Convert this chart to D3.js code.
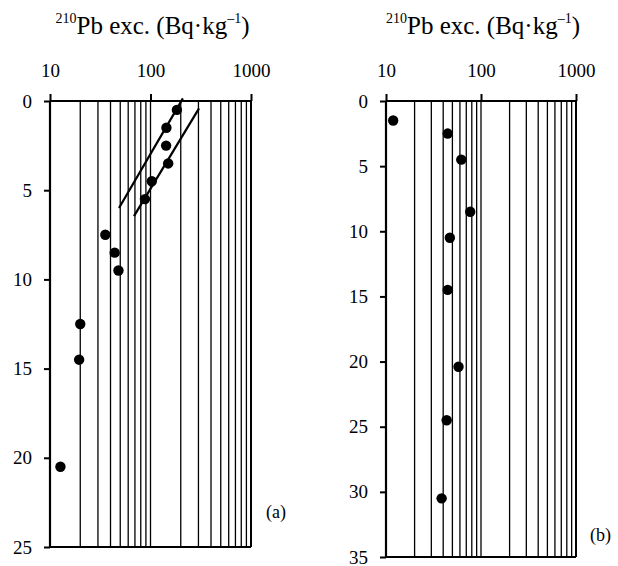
<!DOCTYPE html>
<html>
<head>
<meta charset="utf-8">
<script src="https://cdn.jsdelivr.net/npm/d3@7"></script>
<style>
  body { margin: 0; background: #fff; }
  svg { display: block; }
  svg text { font-family: "Liberation Serif", serif !important; fill: #000; }
  .axis path { display: none; }
  .axis line { stroke: #000; stroke-width: 2; }
  .axis text { font-size: 19px; }
</style>
</head>
<body>
<div id="chart"></div>
<script>
// panel (a) profile
var depthA = [0.5, 1.5, 2.5, 3.5, 4.5, 5.5, 7.5, 8.5, 9.5, 12.5, 14.5, 20.5];
var pbA    = [183, 144, 143, 150, 103, 88, 35.5, 44, 48, 20, 19.5, 12.7];
// two fitted lines in panel (a)
var fit1Pb = [48.6, 210], fit1Depth = [6.0, -0.15];
var fit2Pb = [68.5, 304], fit2Depth = [6.45, 0.41];

// panel (b) profile
var depthB = [1.5, 2.5, 4.5, 8.5, 10.5, 14.5, 20.4, 24.5, 30.5];
var pbB    = [11.9, 44.6, 62, 77, 47, 44.6, 58, 43.5, 38.5];

var xTickValues = [10, 100, 1000];
var gridValues = [20, 30, 40, 50, 60, 70, 80, 90, 100, 200, 300, 400, 500, 600, 700, 800, 900, 1000];

var svg = d3.select("#chart").append("svg")
    .attr("width", 618)
    .attr("height", 566);

function drawPanel(opt) {
    var x = d3.scaleLog().domain([10, 1000]).range([opt.left, opt.right]);
    var y = d3.scaleLinear().domain([0, opt.yMax]).range([opt.top, opt.bottom]);
    var g = svg.append("g");

    // vertical grid
    g.selectAll(".grid")
        .data(gridValues)
        .enter()
        .append("line")
            .attr("x1", function(d) { return x(d); })
            .attr("x2", function(d) { return x(d); })
            .attr("y1", y(0))
            .attr("y2", y(opt.yMax))
            .attr("stroke", "#000")
            .attr("stroke-width", function(d) { return d == 1000 ? 2 : 1.3; });

    // top and bottom frame lines
    g.append("line")
        .attr("x1", x(10)).attr("x2", x(1000))
        .attr("y1", y(0)).attr("y2", y(0))
        .attr("stroke", "#000").attr("stroke-width", 2);
    g.append("line")
        .attr("x1", x(10)).attr("x2", x(1000))
        .attr("y1", y(opt.yMax)).attr("y2", y(opt.yMax))
        .attr("stroke", "#000").attr("stroke-width", 2);
    // left axis line
    g.append("line")
        .attr("x1", x(10)).attr("x2", x(10))
        .attr("y1", y(0)).attr("y2", y(opt.yMax))
        .attr("stroke", "#000").attr("stroke-width", 2.2);

    var xAxis = d3.axisTop(x)
        .tickValues(xTickValues)
        .tickSize(7)
        .tickPadding(17)
        .tickFormat(d3.format("d"));
    g.append("g")
        .attr("class", "x axis")
        .attr("transform", "translate(0," + y(0) + ")")
        .call(xAxis)
        .attr("font-family", null);

    var yAxis = d3.axisLeft(y)
        .tickValues(d3.range(0, opt.yMax + 1, 5))
        .tickSize(6)
        .tickPadding(12);
    g.append("g")
        .attr("class", "y axis")
        .attr("transform", "translate(" + x(10) + ",0)")
        .call(yAxis)
        .attr("font-family", null);

    // title
    var title = g.append("text")
        .attr("x", (opt.left + opt.right) / 2 + 2)
        .attr("y", 34)
        .attr("text-anchor", "middle")
        .style("font-size", "25px");
    title.append("tspan").attr("font-size", "14px").attr("dy", "-11").text("210");
    title.append("tspan").attr("dy", "11").text("Pb exc. (Bq\u00b7kg");
    title.append("tspan").attr("font-size", "14px").attr("dy", "-11").text("\u20131");
    title.append("tspan").attr("dy", "11").text(")");

    // fitted lines
    var line = d3.line()
        .x(function(d) { return x(d.pb); })
        .y(function(d) { return y(d.depth); });
    (opt.fits || []).forEach(function(f) {
        var pts = f.pb.map(function(v, i) { return {pb: v, depth: f.depth[i]}; });
        g.append("path")
            .datum(pts)
            .attr("d", line)
            .attr("fill", "none")
            .attr("stroke", "#000")
            .attr("stroke-width", 2.2);
    });

    // points
    var dots = opt.pb.map(function(v, i) { return {pb: v, depth: opt.depth[i]}; });
    g.selectAll(".dot")
        .data(dots)
        .enter()
        .append("circle")
            .attr("cx", function(d) { return x(d.pb); })
            .attr("cy", function(d) { return y(d.depth); })
            .attr("r", 5.2)
            .attr("fill", "#000");

    g.append("text")
        .attr("x", opt.labelX)
        .attr("y", opt.labelY)
        .style("font-size", "18px")
        .text(opt.label);
}

drawPanel({left: 50, right: 251, top: 101, bottom: 547, yMax: 25,
    depth: depthA, pb: pbA,
    fits: [{pb: fit1Pb, depth: fit1Depth}, {pb: fit2Pb, depth: fit2Depth}],
    label: "(a)", labelX: 266, labelY: 518});
drawPanel({left: 386, right: 576, top: 101, bottom: 557, yMax: 35,
    depth: depthB, pb: pbB,
    label: "(b)", labelX: 590, labelY: 541});
</script>
</body>
</html>
